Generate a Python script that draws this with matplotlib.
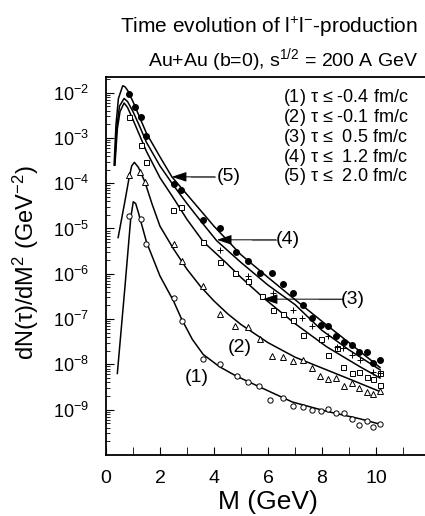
import numpy as np
import matplotlib
matplotlib.use('Agg')
import matplotlib.pyplot as plt
from matplotlib.ticker import LogLocator, MultipleLocator, NullFormatter, FixedLocator

plt.rcParams['font.family'] = ['Liberation Sans', 'DejaVu Sans']
plt.rcParams['mathtext.fontset'] = 'custom'
plt.rcParams['mathtext.rm'] = 'Liberation Sans'
plt.rcParams['mathtext.it'] = 'Liberation Sans:italic'
plt.rcParams['mathtext.default'] = 'regular'

# curves: M (GeV) and log10(dN/dM^2)
m1 = [0.42, 0.7, 0.92, 1.01, 1.1, 1.2, 1.5, 2.0, 2.5, 2.8, 3.2, 3.6, 4.2, 4.8, 5.7, 6.9, 8.2, 9.4, 10.15]
l1 = [-8.2, -6.3, -4.75, -4.41, -4.45, -4.65, -5.3, -6.05, -6.6, -7.0, -7.45, -7.78, -8.05, -8.25, -8.5, -8.83, -9.04, -9.2, -9.32]

m2 = [0.45, 0.7, 0.85, 0.95, 1.05, 1.2, 1.44, 1.7, 2.0, 2.5, 3.0, 3.5, 4.0, 4.5, 5.0, 6.0, 7.0, 8.0, 9.0, 10.15]
l2 = [-5.2, -4.4, -3.9, -3.62, -3.54, -3.65, -3.97, -4.45, -4.95, -5.45, -5.9, -6.28, -6.6, -6.88, -7.12, -7.52, -7.84, -8.08, -8.32, -8.6]

m3 = [0.33, 0.42, 0.52, 0.67, 0.8, 1.0, 1.25, 1.5, 2.0, 2.5, 3.0, 3.6, 4.47, 5.0, 5.89, 7.0, 8.17, 9.4, 10.15]
l3 = [-3.6, -2.8, -2.42, -2.23, -2.33, -2.6, -2.95, -3.3, -3.88, -4.33, -4.8, -5.29, -5.77, -6.08, -6.56, -7.1, -7.61, -8.05, -8.3]

m4 = [0.32, 0.4, 0.5, 0.67, 0.8, 1.0, 1.25, 1.5, 2.0, 2.5, 3.0, 3.5, 4.1, 5.0, 6.0, 7.0, 8.0, 9.0, 10.15]
l4 = [-3.6, -2.75, -2.3, -2.13, -2.2, -2.42, -2.75, -3.1, -3.62, -4.05, -4.45, -4.83, -5.27, -5.75, -6.25, -6.68, -7.25, -7.68, -8.12]

m5 = [0.3, 0.37, 0.46, 0.62, 0.7, 0.8, 1.0, 1.25, 1.5, 2.0, 2.44, 3.0, 3.5, 4.0, 5.0, 6.0, 7.0, 8.0, 9.0, 10.15]
l5 = [-3.6, -2.71, -2.13, -1.85, -1.87, -1.95, -2.2, -2.55, -2.9, -3.42, -3.86, -4.25, -4.6, -4.95, -5.58, -6.08, -6.57, -7.05, -7.52, -8.07]

# symbols
cm1 = [0.86, 1.28, 1.47, 2.52, 2.8, 3.6, 4.22, 4.84, 5.27, 5.68, 6.07, 6.54, 6.94, 7.28, 7.62, 7.95, 8.23, 8.52, 8.83, 9.1, 9.38, 9.65, 9.9, 10.15]
cl1 = [-4.72, -4.78, -5.35, -6.54, -7.04, -7.87, -7.99, -8.26, -8.38, -8.48, -8.79, -8.74, -8.92, -8.95, -9.01, -9.02, -8.99, -9.08, -9.07, -9.21, -9.34, -9.26, -9.39, -9.32]

tm2 = [0.86, 1.26, 1.44, 2.52, 2.8, 3.6, 4.22, 4.78, 5.27, 5.7, 6.13, 6.54, 6.91, 7.28, 7.62, 7.93, 8.23, 8.52, 8.83, 9.1, 9.38, 9.65, 9.9, 10.15]
tl2 = [-3.82, -3.75, -3.97, -5.34, -5.71, -6.28, -6.89, -7.15, -7.18, -7.45, -7.81, -7.83, -7.92, -7.9, -8.07, -8.26, -8.33, -8.31, -8.48, -8.42, -8.53, -8.6, -8.65, -8.58]

sm3 = [0.86, 1.28, 1.47, 2.49, 2.78, 3.6, 4.22, 4.79, 5.27, 5.77, 6.17, 6.54, 6.94, 7.28, 7.96, 8.23, 8.54, 8.79, 9.1, 9.38, 9.65, 9.9, 10.15, 10.15]
sl3 = [-2.53, -3.16, -3.53, -4.6, -4.53, -5.29, -5.75, -5.98, -6.17, -6.5, -6.8, -6.89, -7.02, -7.36, -7.45, -7.79, -7.63, -8.06, -8.2, -8.16, -8.27, -8.32, -8.45, -8.2]

pm4 = [4.22, 5.27, 6.2, 6.94, 7.25, 7.62, 8.23, 8.54, 8.79, 9.1, 9.4, 9.9, 10.15]
pl4 = [-5.48, -6.04, -6.42, -6.8, -6.98, -7.15, -7.37, -7.61, -7.64, -7.8, -7.9, -8.16, -8.2]

fm5 = [0.86, 1.07, 1.28, 1.47, 2.52, 2.78, 3.58, 4.22, 4.81, 5.27, 5.7, 6.16, 6.57, 6.94, 7.28, 7.64, 7.95, 8.23, 8.52, 8.83, 9.1, 9.38, 9.65, 9.9, 10.15]
fl5 = [-2.04, -2.31, -2.55, -2.95, -4.02, -4.15, -4.81, -5.0, -5.51, -5.71, -5.98, -5.99, -6.23, -6.42, -6.69, -6.98, -7.13, -7.15, -7.37, -7.5, -7.57, -7.72, -7.73, -7.96, -7.9]

legend_lines = ['(1) $\\tau$ \u2264 -0.4 fm/c',
                '(2) $\\tau$ \u2264 -0.1 fm/c',
                '(3) $\\tau$ \u2264  0.5 fm/c',
                '(4) $\\tau$ \u2264  1.2 fm/c',
                '(5) $\\tau$ \u2264  2.0 fm/c']

fig = plt.figure(figsize=(4.25, 5.16), dpi=100)
ax = fig.add_axes([0.2494, 0.1182, 0.7624, 0.7326])
ax.set_yscale('log')

for mm, ll in [(m1, l1), (m2, l2), (m3, l3), (m4, l4), (m5, l5)]:
    ax.plot(mm, 10.0 ** np.array(ll), '-', color='black', lw=1.1)

ax.plot(cm1, 10.0 ** np.array(cl1), 'o', mfc='white', mec='black', ms=3.8, mew=0.7)
ax.plot(tm2, 10.0 ** np.array(tl2), '^', mfc='white', mec='black', ms=3.8, mew=0.7)
ax.plot(sm3, 10.0 ** np.array(sl3), 's', mfc='white', mec='black', ms=3.6, mew=0.7)
ax.plot(pm4, 10.0 ** np.array(pl4), '+', color='black', ms=4.5, mew=0.7)
ax.plot(fm5, 10.0 ** np.array(fl5), 'o', color='black', ms=4)

# arrows with labels
for txt, tip, start, tx in [('(5)', (2.44, -3.86), 4.04, 4.56),
                            ('(4)', (4.11, -5.25), 6.3, 6.74),
                            ('(3)', (5.81, -6.56), 8.78, 9.15)]:
    ax.annotate('', xy=(tip[0], 10 ** tip[1]), xytext=(start, 10 ** tip[1]),
                arrowprops=dict(arrowstyle='-|>,head_length=0.9,head_width=0.3',
                                color='black', lw=0.7, shrinkA=0, shrinkB=0))
    ax.plot([start - 0.9, start], [10 ** tip[1]] * 2, color='#999999', lw=0.8)
    ax.text(tx, 10 ** tip[1], txt, fontsize=14, ha='center', va='center')

ax.text(3.37, 10 ** -8.28, '(1)', fontsize=14, ha='center', va='center')
ax.text(4.96, 10 ** -7.62, '(2)', fontsize=14, ha='center', va='center')

ax.set_xlim(0, 12)
ax.set_ylim(1e-10, 10 ** -1.656)
ax.xaxis.set_major_locator(FixedLocator([0, 2, 4, 6, 8, 10]))
ax.xaxis.set_minor_locator(MultipleLocator(1))
ax.yaxis.set_major_locator(FixedLocator([10.0 ** k for k in range(-9, -1)]))
ax.yaxis.set_minor_locator(LogLocator(base=10, subs=np.arange(2, 10), numticks=20))
ax.yaxis.set_minor_formatter(NullFormatter())
ax.set_yticklabels(['$10^{%d}$' % k for k in range(-9, -1)])
ax.tick_params(axis='both', which='both', direction='in')
ax.tick_params(axis='both', which='major', length=6, width=0.8)
ax.tick_params(axis='both', which='minor', length=3, width=0.6)
ax.tick_params(axis='y', which='major', labelsize=13, pad=12)
ax.tick_params(axis='x', which='major', labelsize=14, pad=11)
ax.tick_params(axis='x', which='minor', length=6)
for s in ax.spines.values():
    s.set_linewidth(1.3)

ax.set_xlabel('M (GeV)', fontsize=19, labelpad=2)
fig.text(0.06, 0.49, 'dN($\\tau$)/dM$^2$ (GeV$^{-2}$)', rotation=90, fontsize=17,
         ha='center', va='center')

fig.text(418 / 425, 1 - 27 / 516, 'Time evolution of l$^{+}$l$^{-}$-production',
         fontsize=15, ha='right', va='center')
fig.text(418 / 425, 1 - 60 / 516, 'Au+Au (b=0), s$^{1/2}$ = 200 A GeV',
         fontsize=14, ha='right', va='center')

for i, line in enumerate(legend_lines):
    fig.text(283 / 425, 1 - (98 + 19.7 * i) / 516, line, fontsize=13, ha='left', va='center')

fig.savefig('out.png', dpi=100)
